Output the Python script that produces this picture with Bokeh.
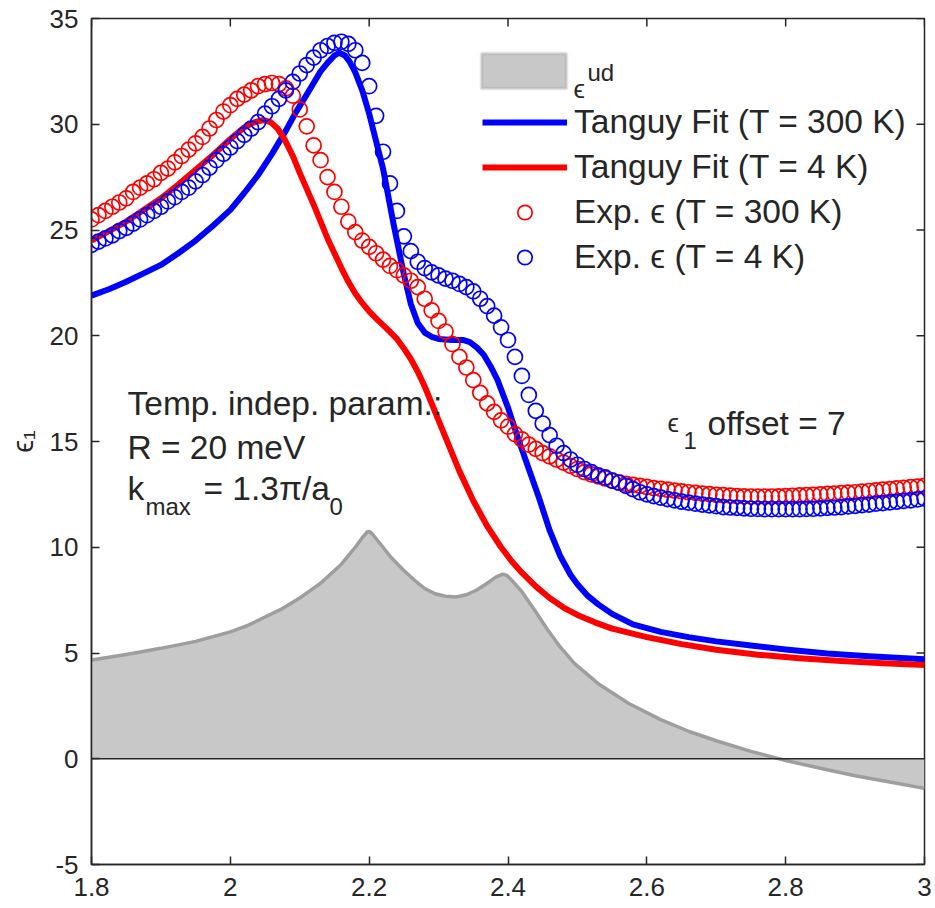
from bokeh.plotting import figure
from bokeh.models import (Range1d, FixedTicker, Legend, LegendItem,
                          Label, Span, BoxAnnotation)
from bokeh.embed import file_html
from bokeh.resources import INLINE

# ---------------- data ----------------
x_ticks = [1.8, 2.0, 2.2, 2.4, 2.6, 2.8, 3.0]
x_tick_labels = ["1.8", "2", "2.2", "2.4", "2.6", "2.8", "3"]
y_ticks = [-5, 0, 5, 10, 15, 20, 25, 30, 35]
y_tick_labels = ["-5", "0", "5", "10", "15", "20", "25", "30", "35"]

# experimental energies (eV)
exp_energy = [
    1.80, 1.81, 1.82, 1.83, 1.84, 1.85, 1.86, 1.87, 1.88, 1.89,
    1.90, 1.91, 1.92, 1.93, 1.94, 1.95, 1.96, 1.97, 1.98, 1.99,
    2.00, 2.01, 2.02, 2.03, 2.04, 2.05, 2.06, 2.07, 2.08, 2.09,
    2.10, 2.11, 2.12, 2.13, 2.14, 2.15, 2.16, 2.17, 2.18, 2.19,
    2.20, 2.21, 2.22, 2.23, 2.24, 2.25, 2.26, 2.27, 2.28, 2.29,
    2.30, 2.31, 2.32, 2.33, 2.34, 2.35, 2.36, 2.37, 2.38, 2.39,
    2.40, 2.41, 2.42, 2.43, 2.44, 2.45, 2.46, 2.47, 2.48, 2.49,
    2.50, 2.51, 2.52, 2.53, 2.54, 2.55, 2.56, 2.57, 2.58, 2.59,
    2.60, 2.61, 2.62, 2.63, 2.64, 2.65, 2.66, 2.67, 2.68, 2.69,
    2.70, 2.71, 2.72, 2.73, 2.74, 2.75, 2.76, 2.77, 2.78, 2.79,
    2.80, 2.81, 2.82, 2.83, 2.84, 2.85, 2.86, 2.87, 2.88, 2.89,
    2.90, 2.91, 2.92, 2.93, 2.94, 2.95, 2.96, 2.97, 2.98, 2.99,
    3.00]

# Exp. eps (T = 300 K)  -- red circles
exp_eps_300K = [
    25.5, 25.7, 25.9, 26.1, 26.3, 26.5, 26.8, 27.0, 27.2, 27.4,
    27.7, 27.9, 28.2, 28.5, 28.8, 29.1, 29.4, 29.8, 30.2, 30.6,
    30.9, 31.2, 31.4, 31.6, 31.8, 31.9, 31.95, 31.9, 31.7, 31.35,
    30.7, 29.9, 29.0, 28.3, 27.5, 26.8, 26.1, 25.4, 24.9, 24.5,
    24.2, 23.9, 23.6, 23.3, 23.1, 22.85, 22.6, 22.3, 21.75, 21.2,
    20.7, 20.2, 19.6, 19.0, 18.5, 17.9, 17.3, 16.8, 16.4, 16.0,
    15.7, 15.35, 15.1, 14.85, 14.65, 14.45, 14.3, 14.15, 14.0, 13.85,
    13.7, 13.55, 13.45, 13.35, 13.25, 13.15, 13.07, 13.0, 12.95, 12.9,
    12.85, 12.8, 12.76, 12.72, 12.68, 12.64, 12.6, 12.57, 12.54, 12.51,
    12.48, 12.46, 12.44, 12.42, 12.41, 12.4, 12.4, 12.4, 12.4, 12.41,
    12.42, 12.43, 12.45, 12.46, 12.48, 12.5, 12.52, 12.54, 12.56, 12.58,
    12.6, 12.63, 12.66, 12.69, 12.72, 12.75, 12.78, 12.81, 12.84, 12.87,
    12.9]

# Exp. eps (T = 4 K)  -- blue circles
exp_eps_4K = [
    24.3, 24.45, 24.6, 24.75, 24.95, 25.1, 25.3, 25.5, 25.7, 25.9,
    26.1, 26.35, 26.55, 26.8, 27.0, 27.3, 27.6, 27.95, 28.3, 28.6,
    28.9, 29.2, 29.5, 29.8, 30.1, 30.5, 30.85, 31.2, 31.6, 32.0,
    32.4, 32.8, 33.15, 33.5, 33.7, 33.85, 33.9, 33.8, 33.5, 32.9,
    31.8, 30.4, 28.7, 27.2, 25.9, 24.7, 24.0, 23.5, 23.2, 23.0,
    22.85, 22.7, 22.6, 22.45, 22.3, 22.1, 21.75, 21.4, 20.95, 20.4,
    19.8, 19.0, 18.1, 17.2, 16.45, 15.85, 15.3, 14.8, 14.45, 14.15,
    13.9, 13.7, 13.55, 13.4, 13.3, 13.15, 13.05, 12.9, 12.75, 12.6,
    12.5, 12.42, 12.35, 12.28, 12.22, 12.16, 12.11, 12.06, 12.02, 11.98,
    11.94, 11.9, 11.88, 11.86, 11.84, 11.82, 11.81, 11.8, 11.8, 11.8,
    11.8, 11.8, 11.8, 11.81, 11.82, 11.84, 11.86, 11.88, 11.9, 11.93,
    11.96, 11.99, 12.02, 12.06, 12.09, 12.12, 12.16, 12.19, 12.22, 12.26,
    12.3]

# Tanguy fit (T = 300 K) -- blue line
fit300_energy = [1.80, 1.825, 1.85, 1.875, 1.90, 1.925, 1.95, 1.975, 2.00, 2.02,
                 2.04, 2.06, 2.08, 2.095, 2.11, 2.12, 2.13, 2.14, 2.15, 2.157,
                 2.165, 2.172, 2.18, 2.19, 2.20, 2.21, 2.22, 2.235, 2.25, 2.26,
                 2.27, 2.28, 2.29, 2.30, 2.32, 2.335, 2.345, 2.355, 2.365, 2.375,
                 2.385, 2.40, 2.415, 2.43, 2.445, 2.46, 2.475, 2.49, 2.50, 2.515,
                 2.53, 2.55, 2.58, 2.62, 2.66, 2.70, 2.75, 2.80, 2.86, 2.92,
                 3.00]
fit300_eps = [21.9, 22.2, 22.55, 22.95, 23.35, 23.9, 24.5, 25.2, 25.95, 26.75,
              27.6, 28.6, 29.7, 30.6, 31.4, 31.95, 32.5, 32.9, 33.25, 33.38,
              33.25, 32.95, 32.45, 31.6, 30.5, 29.2, 27.9, 25.3, 22.9, 21.5,
              20.6, 20.15, 19.95, 19.85, 19.8, 19.8, 19.7, 19.45, 19.1, 18.55,
              17.9, 16.6, 15.1, 13.7, 12.3, 10.8, 9.6, 8.7, 8.25, 7.7,
              7.3, 6.85, 6.35, 6.0, 5.75, 5.55, 5.35, 5.17, 4.98, 4.85,
              4.7]

# Tanguy fit (T = 4 K) -- red line
fit4_energy = [1.80, 1.825, 1.85, 1.875, 1.90, 1.925, 1.95, 1.975, 2.00, 2.02,
               2.035, 2.048, 2.058, 2.068, 2.078, 2.09, 2.10, 2.12, 2.14, 2.16,
               2.17, 2.18, 2.19, 2.20, 2.212, 2.225, 2.24, 2.25, 2.26, 2.27,
               2.28, 2.29, 2.31, 2.33, 2.35, 2.37, 2.39, 2.405, 2.42, 2.44,
               2.46, 2.48, 2.50, 2.525, 2.55, 2.60, 2.65, 2.70, 2.76, 2.82,
               2.88, 2.94, 3.00]
fit4_eps = [24.5, 24.95, 25.4, 25.95, 26.5, 27.15, 27.85, 28.55, 29.3, 29.85,
            30.1, 30.2, 30.1, 29.8, 29.3, 28.5, 27.7, 26.2, 24.6, 23.2,
            22.55, 22.0, 21.55, 21.15, 20.75, 20.35, 19.85, 19.4, 18.9, 18.3,
            17.6, 16.8, 15.2, 13.6, 12.2, 11.0, 10.0, 9.35, 8.8, 8.15,
            7.6, 7.15, 6.8, 6.45, 6.15, 5.75, 5.42, 5.15, 4.92, 4.75,
            4.62, 4.52, 4.43]

# eps^ud -- grey area
ud_energy = [1.80, 1.85, 1.90, 1.95, 2.00, 2.025, 2.05, 2.075, 2.10, 2.115,
             2.13, 2.145, 2.16, 2.17, 2.18, 2.19, 2.197, 2.20, 2.204, 2.21,
             2.22, 2.232, 2.25, 2.265, 2.28, 2.295, 2.31, 2.325, 2.34, 2.355,
             2.37, 2.383, 2.392, 2.398, 2.405, 2.42, 2.44, 2.457, 2.476, 2.496,
             2.53, 2.574, 2.62, 2.66, 2.70, 2.75, 2.80, 2.85, 2.90, 2.95,
             3.00]
ud_eps = [4.67, 4.93, 5.22, 5.55, 6.0, 6.3, 6.7, 7.1, 7.6, 7.95,
          8.3, 8.75, 9.2, 9.6, 10.0, 10.45, 10.72, 10.75, 10.65, 10.4,
          10.0, 9.5, 8.9, 8.45, 8.05, 7.8, 7.68, 7.65, 7.75, 7.98,
          8.3, 8.6, 8.72, 8.68, 8.45, 7.9, 6.95, 6.1, 5.25, 4.5,
          3.55, 2.61, 1.85, 1.3, 0.85, 0.35, -0.08, -0.45, -0.8, -1.1,
          -1.4]

# ---------------- layout ----------------
X_MIN, X_MAX, Y_MIN, Y_MAX = 1.8, 3.0, -5, 35
FRAME_L, FRAME_R, FRAME_T, FRAME_B = 91, 924, 18, 864
TICK_PX = 8


def dx(px):
    return X_MIN + (px - FRAME_L) * (X_MAX - X_MIN) / (FRAME_R - FRAME_L)


def dy(py):
    return Y_MAX - (py - FRAME_T) * (Y_MAX - Y_MIN) / (FRAME_B - FRAME_T)


FONT = "Liberation Sans"
INK = "#262626"
BIG = "33.5px"
SMALL = "24px"

p = figure(width=935, height=908, x_range=Range1d(X_MIN, X_MAX), y_range=Range1d(Y_MIN, Y_MAX),
           output_backend="svg", toolbar_location=None,
           min_border_left=FRAME_L, min_border_right=935 - FRAME_R,
           min_border_top=FRAME_T, min_border_bottom=908 - FRAME_B)
p.grid.visible = False
p.outline_line_color = INK
p.outline_line_width = 1.5

for ax in (p.xaxis[0], p.yaxis[0]):
    ax.axis_line_color = INK
    ax.axis_line_width = 1.5
    ax.major_tick_line_color = INK
    ax.major_tick_line_width = 1.5
    ax.major_tick_in = TICK_PX
    ax.major_tick_out = 0
    ax.minor_tick_line_color = None
    ax.major_label_text_font = FONT
    ax.major_label_text_font_size = "26px"
    ax.major_label_text_color = INK
    ax.major_label_standoff = 13

p.xaxis[0].ticker = FixedTicker(ticks=x_ticks)
p.xaxis[0].major_label_overrides = dict(zip(x_ticks, x_tick_labels))
p.yaxis[0].ticker = FixedTicker(ticks=y_ticks)
p.yaxis[0].major_label_overrides = dict(zip(y_ticks, y_tick_labels))

# y-axis label
p.yaxis[0].axis_label = "ϵ₁"
p.yaxis[0].axis_label_text_font = FONT
p.yaxis[0].axis_label_text_font_size = "29px"
p.yaxis[0].axis_label_text_font_style = "normal"
p.yaxis[0].axis_label_text_color = INK
p.yaxis[0].axis_label_standoff = 8

# inward ticks on the top and right edges of the box (from the tick lists)
tick_dy = TICK_PX * (Y_MAX - Y_MIN) / (FRAME_B - FRAME_T)
tick_dx = TICK_PX * (X_MAX - X_MIN) / (FRAME_R - FRAME_L)
p.segment(x0=x_ticks, y0=[Y_MAX] * len(x_ticks), x1=x_ticks,
          y1=[Y_MAX - tick_dy] * len(x_ticks), line_color=INK, line_width=1.5)
p.segment(x0=[X_MAX] * len(y_ticks), y0=y_ticks, x1=[X_MAX - tick_dx] * len(y_ticks),
          y1=y_ticks, line_color=INK, line_width=1.5)

# ---------------- glyphs ----------------
p.varea(x=ud_energy, y1=0, y2=ud_eps, fill_color="#C8C8C8", fill_alpha=1.0)
p.line(ud_energy, ud_eps, line_color="#9E9E9E", line_width=3.5, line_join="round")
p.add_layout(Span(location=0, dimension="width", line_color=INK, line_width=1.5))

blue_line = p.line(fit300_energy, fit300_eps, line_color="#0000FF", line_width=6,
                   line_join="round")
red_line = p.line(fit4_energy, fit4_eps, line_color="#FF0000", line_width=6,
                  line_join="round")
red_pts = p.scatter(exp_energy, exp_eps_300K, marker="circle", size=15,
                    fill_color=None, line_color="#FF0000", line_width=1.7)
blue_pts = p.scatter(exp_energy, exp_eps_4K, marker="circle", size=15,
                     fill_color=None, line_color="#0000FF", line_width=1.7)

# ---------------- legend ----------------
legend = Legend(items=[
    LegendItem(label="Tanguy Fit (T = 300 K)", renderers=[blue_line]),
    LegendItem(label="Tanguy Fit (T = 4 K)", renderers=[red_line]),
    LegendItem(label="Exp. ϵ (T = 300 K)", renderers=[red_pts]),
    LegendItem(label="Exp. ϵ (T = 4 K)", renderers=[blue_pts]),
], location=(391, 588), padding=0, margin=0, spacing=7,
    glyph_width=85, glyph_height=36, label_height=36, label_standoff=7,
    border_line_color=None, background_fill_alpha=0.0,
    label_text_font=FONT, label_text_font_size=BIG, label_text_color=INK)
p.add_layout(legend)

p.add_layout(BoxAnnotation(left=dx(481), right=dx(566), top=dy(53), bottom=dy(88),
                           fill_color="#C8C8C8", fill_alpha=1.0,
                           line_color="#9E9E9E", line_width=3.5))


def txt(text, px, py, size, **kw):
    p.add_layout(Label(x=dx(px), y=dy(py), text=text, text_font=FONT,
                       text_font_size=size, text_color=INK,
                       text_baseline="alphabetic", text_align="left", **kw))


txt("ϵ", 573, 88, "26px")
txt("ud", 587, 72, SMALL)

txt("Temp. indep. param.:", 127, 403, BIG)
txt("R = 20 meV", 127, 447, BIG)
txt("k", 127, 488, BIG)
txt("max", 145, 506, SMALL)
txt("= 1.3π/a", 203, 488, BIG)
txt("0", 329, 506, SMALL)

txt("ϵ", 667, 422, "26px")
txt("1", 683, 440, SMALL)
txt("offset = 7", 707, 423, BIG)

open("out.html", "w").write(file_html(p, INLINE))
